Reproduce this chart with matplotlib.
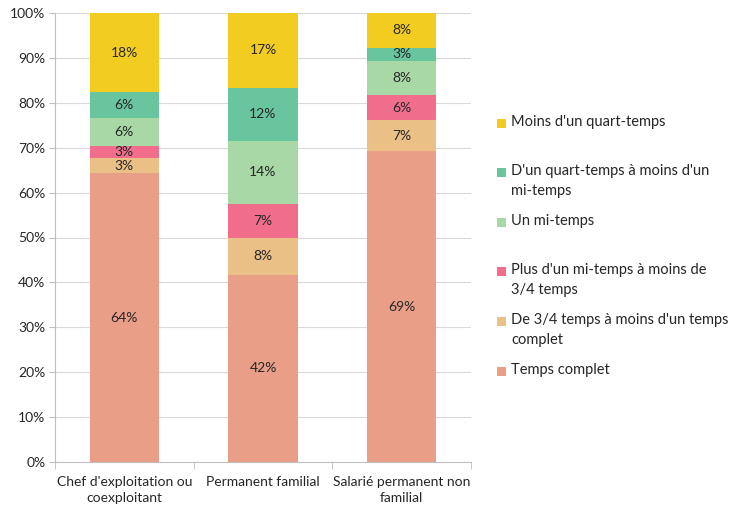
import matplotlib
matplotlib.use("Agg")
import matplotlib.pyplot as plt
from matplotlib.patches import Rectangle
import numpy as np

plt.rcParams['font.family'] = ['Lato', 'DejaVu Sans']

categories = ["Chef d'exploitation ou\ncoexploitant", "Permanent familial", "Salarié permanent non\nfamilial"]
series_names = ["Temps complet",
                "De 3/4 temps à moins d'un temps\ncomplet",
                "Plus d'un mi-temps à moins de\n3/4 temps",
                "Un mi-temps",
                "D'un quart-temps à moins d'un\nmi-temps",
                "Moins d'un quart-temps"]
temps_complet = [64.3, 41.7, 69.2]
trois_quarts = [3.4, 8.3, 6.9]
plus_mi_temps = [2.6, 7.4, 5.6]
mi_temps = [6.4, 14.2, 7.7]
quart_temps = [5.6, 11.7, 2.9]
moins_quart = [17.7, 16.7, 7.7]
series = [temps_complet, trois_quarts, plus_mi_temps, mi_temps, quart_temps, moins_quart]
colors = ['#E89E87', '#EBC086', '#F06E8C', '#A8D8A6', '#69C59E', '#F2CC20']

W, H = 737, 508
fig = plt.figure(figsize=(W / 100, H / 100), dpi=100)
ax = fig.add_axes([55 / W, 1 - 462 / H, 416 / W, 449 / H])

x = np.arange(len(categories))
bottom = np.zeros(len(categories))
for vals, col, name in zip(series, colors, series_names):
    vals = np.array(vals)
    ax.bar(x, vals, 0.5, bottom=bottom, color=col, zorder=2, label=name)
    for xi, b, v in zip(x, bottom, vals):
        ax.text(xi, b + v / 2, f"{int(np.floor(v + 0.5))}%", ha='center', va='center',
                fontsize=10, color='#262626', zorder=3)
    bottom += vals

ax.set_xlim(-0.5, 2.5)
ax.set_ylim(0, 100)
ax.set_yticks(np.arange(0, 101, 10))
ax.set_yticklabels([f"{v}%" for v in range(0, 101, 10)])
ax.set_xticks(x)
ax.set_xticklabels(categories, linespacing=1.45)
ax.set_xticks([-0.5, 0.5, 1.5, 2.5], minor=True)
ax.tick_params(axis='x', which='major', length=0, pad=10, labelsize=10, labelcolor='#262626')
ax.tick_params(axis='x', which='minor', length=5, color='#BFBFBF')
ax.tick_params(axis='y', length=4, color='#BFBFBF', labelsize=10, labelcolor='#262626', pad=3)
ax.grid(axis='y', color='#D9D9D9', linewidth=0.8, zorder=0)
for s in ['top', 'right']:
    ax.spines[s].set_visible(False)
for s in ['left', 'bottom']:
    ax.spines[s].set_color('#BFBFBF')

# manual legend (reverse order), first-line centres in pixels from top
legend_y = [123, 172, 222, 271, 321, 371]
for ypix, name, col in zip(legend_y, series_names[::-1], colors[::-1]):
    fig.patches.append(Rectangle((497 / W, 1 - (ypix + 4.5) / H), 9 / W, 9 / H,
                                 transform=fig.transFigure, facecolor=col, edgecolor='none'))
    fig.text(511 / W, 1 - (ypix - 8) / H, name, ha='left', va='top', fontsize=10.5,
             color='#262626', linespacing=1.55)

fig.savefig("out.png", dpi=100)
